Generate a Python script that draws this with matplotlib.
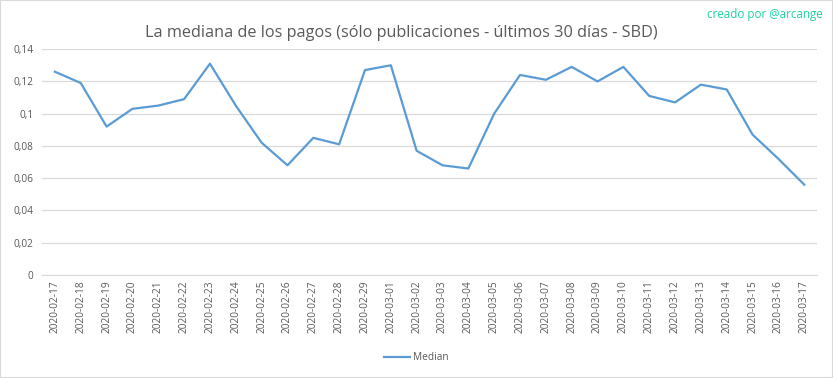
import matplotlib
matplotlib.use("Agg")
import matplotlib.pyplot as plt
from matplotlib.patches import Rectangle

# data
dates = ["2020-02-17", "2020-02-18", "2020-02-19", "2020-02-20", "2020-02-21",
         "2020-02-22", "2020-02-23", "2020-02-24", "2020-02-25", "2020-02-26",
         "2020-02-27", "2020-02-28", "2020-02-29", "2020-03-01", "2020-03-02",
         "2020-03-03", "2020-03-04", "2020-03-05", "2020-03-06", "2020-03-07",
         "2020-03-08", "2020-03-09", "2020-03-10", "2020-03-11", "2020-03-12",
         "2020-03-13", "2020-03-14", "2020-03-15", "2020-03-16", "2020-03-17"]
median = [0.126, 0.119, 0.092, 0.103, 0.105, 0.109, 0.131, 0.105, 0.082, 0.068,
          0.085, 0.081, 0.127, 0.130, 0.077, 0.068, 0.066, 0.100, 0.124, 0.121,
          0.129, 0.120, 0.129, 0.111, 0.107, 0.118, 0.115, 0.087, 0.072, 0.056]
yticks = [0, 0.02, 0.04, 0.06, 0.08, 0.1, 0.12, 0.14]
ytick_labels = ["0", "0,02", "0,04", "0,06", "0,08", "0,1", "0,12", "0,14"]

plt.rcParams['font.family'] = ['Open Sans', 'DejaVu Sans']
grey = '#595959'

fig = plt.figure(figsize=(8.33, 3.78), dpi=100)
ax = fig.add_axes([0.0504, 0.2725, 0.9306, 0.5975])

x = list(range(len(dates)))
ax.plot(x, median, color='#5B9BD5', lw=1.6, label='Median')

ax.set_xlim(-0.5, len(dates) - 0.5)
ax.set_ylim(0, 0.14)
ax.set_yticks(yticks)
ax.set_yticklabels(ytick_labels)
ax.set_xticks(x)
ax.set_xticklabels(dates, rotation=90)
ax.tick_params(axis='both', length=0, labelsize=7.3, colors=grey, pad=6)
ax.tick_params(axis='x', pad=4)
ax.grid(axis='y', color='#d9d9d9', lw=0.9)
ax.set_axisbelow(True)
for s in ['top', 'right', 'left']:
    ax.spines[s].set_visible(False)
ax.spines['bottom'].set_color('#d9d9d9')

fig.text(0.482, 0.913, 'La mediana de los pagos (sólo publicaciones - últimos 30 días - SBD)',
         ha='center', va='center', fontsize=11.7, color=grey)
fig.text(0.988, 0.962, 'creado por @arcange', ha='right', va='center',
         fontsize=8.4, color='#1DD3A3')

fig.legend(loc='center', bbox_to_anchor=(0.5, 0.053), frameon=False,
           fontsize=7.3, labelcolor=grey, handlelength=2.6, handletextpad=0.3)

fig.patches.append(Rectangle((0, 0), 1, 1, transform=fig.transFigure,
                             fill=False, edgecolor='#d9d9d9', lw=1.5))

fig.savefig('out.png', dpi=100)
